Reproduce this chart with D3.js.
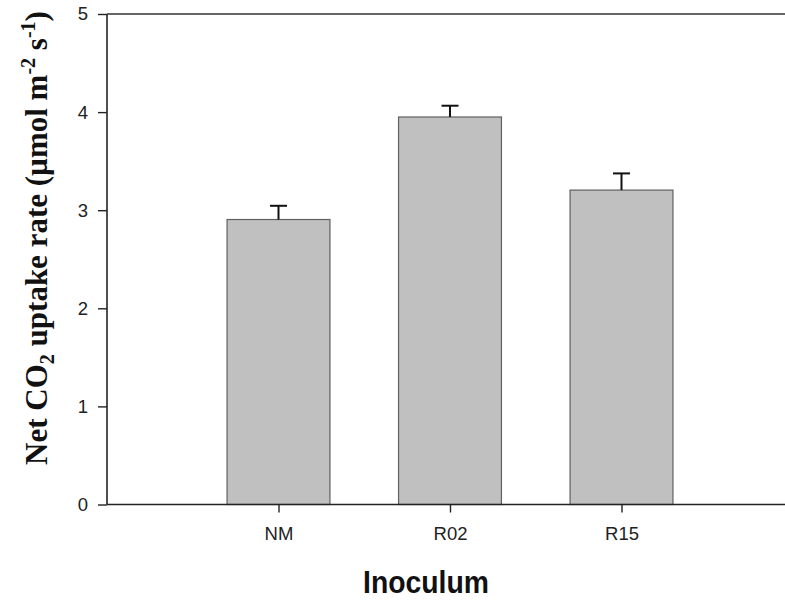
<!DOCTYPE html>
<html><head><meta charset="utf-8">
<script src="https://cdn.jsdelivr.net/npm/d3@7"></script>
<style>body{margin:0;background:#fff}</style>
</head><body>
<script>
const categories = ["NM", "R02", "R15"];
const values = [2.905, 3.95, 3.205];
const errors = [0.14, 0.115, 0.17];
const yTicks = [0, 1, 2, 3, 4, 5];

const W = 785, H = 600;
const svg = d3.select("body").append("svg").attr("width", W).attr("height", H)
  .style("font-family", "'Liberation Sans', Arial, sans-serif");

const x = d3.scaleLinear().domain([0, 4]).range([107, 793]);
const y = d3.scaleLinear().domain([0, 5]).range([504.5, 14]);
const bw = x(0.6) - x(0);

// bars
svg.selectAll("rect.bar").data(categories).enter().append("rect")
  .attr("x", (d, i) => x(i + 1) - bw / 2)
  .attr("y", (d, i) => y(values[i]))
  .attr("width", bw)
  .attr("height", (d, i) => y(0) - y(values[i]))
  .attr("fill", "#c0c0c0").attr("stroke", "#606060").attr("stroke-width", 1.2);

// error bars
const eg = svg.append("g").attr("stroke", "#111").attr("stroke-width", 2);
categories.forEach((c, i) => {
  eg.append("line").attr("x1", x(i + 1)).attr("x2", x(i + 1))
    .attr("y1", y(values[i])).attr("y2", y(values[i] + errors[i]));
  eg.append("line").attr("x1", x(i + 1) - 8.5).attr("x2", x(i + 1) + 8.5)
    .attr("y1", y(values[i] + errors[i])).attr("y2", y(values[i] + errors[i]));
});

// y axis
const yAxis = svg.append("g").attr("transform", `translate(${x(0)},0)`)
  .call(d3.axisLeft(y).tickValues(yTicks).tickFormat(d3.format("d")).tickSize(9).tickPadding(10));
yAxis.attr("font-size", null);
yAxis.select(".domain").attr("stroke", "#222").attr("stroke-width", 1.6).attr("d", `M0,${y(0)}V${y(5)}`);
yAxis.selectAll(".tick line").attr("stroke", "#222").attr("stroke-width", 1.4);
yAxis.selectAll("text").style("font-size", "18.5px").attr("fill", "#222")
  .style("font-family", "'Liberation Sans', Arial, sans-serif");

// x axis
const xAxis = svg.append("g").attr("transform", `translate(0,${y(0)})`)
  .call(d3.axisBottom(x).tickValues([1, 2, 3]).tickFormat((d) => categories[d - 1]).tickSize(8).tickPadding(14));
xAxis.attr("font-size", null);
xAxis.select(".domain").attr("stroke", "#222").attr("stroke-width", 1.6).attr("d", `M${x(0)},0H${x(4)}`);
xAxis.selectAll(".tick line").attr("stroke", "#222").attr("stroke-width", 1.4);
xAxis.selectAll("text").style("font-size", "18.5px").attr("fill", "#222")
  .style("font-family", "'Liberation Sans', Arial, sans-serif");

// top frame line
svg.append("line").attr("x1", x(0)).attr("x2", x(4)).attr("y1", y(5)).attr("y2", y(5))
  .attr("stroke", "#333").attr("stroke-width", 1.6);

// x title
svg.append("text").attr("x", 426).attr("y", 592.5).attr("text-anchor", "middle")
  .attr("font-size", 31).attr("font-weight", "bold").attr("fill", "#111")
  .attr("textLength", 126).attr("lengthAdjust", "spacingAndGlyphs")
  .text("Inoculum");

// y title
const yt = svg.append("text").attr("transform", "translate(47,238) rotate(-90)")
  .attr("text-anchor", "middle").attr("font-size", 31).attr("font-weight", "bold")
  .attr("fill", "#111").style("font-family", "'Liberation Serif', 'Times New Roman', serif");
yt.append("tspan").text("Net CO");
yt.append("tspan").attr("font-size", 20).attr("dy", 7).text("2");
yt.append("tspan").attr("dy", -7).text(" uptake rate (µmol m");
yt.append("tspan").attr("font-size", 20).attr("dy", -12).text("-2");
yt.append("tspan").attr("dy", 12).text(" s");
yt.append("tspan").attr("font-size", 20).attr("dy", -12).text("-1");
yt.append("tspan").attr("dy", 12).text(")");
</script>
</body></html>
